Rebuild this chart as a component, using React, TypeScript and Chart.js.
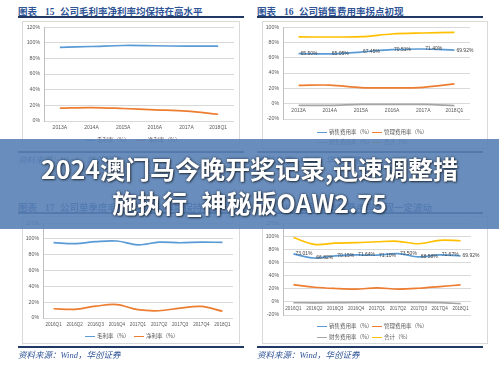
import React, { useEffect, useRef } from "react";
import { Chart, registerables } from "chart.js";
Chart.register(...registerables);

// ---------- data ----------
const yearLabels = ["2013A", "2014A", "2015A", "2016A", "2017A", "2018Q1"];
const quarterLabels = ["2016Q1", "2016Q2", "2016Q3", "2016Q4", "2017Q1", "2017Q2", "2017Q3", "2017Q4", "2018Q1"];

const grossMarginYear = [94.2, 95.2, 96.5, 96.2, 95.6, 95.7];
const netMarginYear = [16.5, 17.2, 16.0, 14.3, 12.6, 8.6];

const sellingYear = [65.5, 65.05, 67.45, 70.51, 71.4, 69.92];
const adminYear = [23.8, 24.3, 21.0, 20.6, 21.4, 25.8];
const financeYear = [-2.1, -2.2, -1.0, -0.9, -1.0, -2.6];
const totalYear = [87.2, 87.1, 87.5, 91.0, 92.3, 93.1];

const grossMarginQ = [95.3, 94.0, 96.6, 97.4, 92.4, 96.0, 95.2, 96.0, 95.6];
const netMarginQ = [11.7, 11.0, 15.0, 17.0, 10.5, 9.2, 12.6, 14.6, 8.6];

const sellingQ = [73.01, 66.82, 70.15, 71.64, 71.1, 73.5, 68.58, 71.67, 69.92];
const adminQ = [26.2, 22.3, 20.4, 19.5, 21.3, 19.5, 20.8, 23.3, 25.8];
const financeQ = [-1.3, -1.4, -1.2, -0.9, -0.8, -0.7, -0.8, -1.2, -2.6];
const totalQ = [98.0, 87.7, 89.4, 90.2, 91.6, 92.3, 88.6, 93.8, 93.1];

const BLUE = "#5b9bd5";
const ORANGE = "#ed7d31";
const GRAY = "#a5a5a5";
const YELLOW = "#ffc000";

const TITLE_COLOR = "#2f5597";
const RULE_COLOR = "#1f3864";
const CJK = "'Noto Sans CJK SC', 'Noto Sans', sans-serif";

type DS = { label: string; data: number[]; color: string; dataLabels?: boolean };

const xLabelPlugin = {
  id: "xLabelsAtZero",
  afterDatasetsDraw(chart: any) {
    const { ctx } = chart;
    const xs = chart.scales.x;
    const ys = chart.scales.y;
    const y0 = ys.getPixelForValue(0) + 7;
    const size = (chart.options as any)._xFontSize || 5;
    ctx.save();
    ctx.font = size + "px 'Liberation Sans', sans-serif";
    ctx.fillStyle = "#595959";
    ctx.textAlign = "center";
    ctx.textBaseline = "middle";
    (chart.data.labels as string[]).forEach((l, i) => {
      ctx.fillText(l, xs.getPixelForValue(i), y0);
    });
    // data labels
    chart.data.datasets.forEach((ds: any, di: number) => {
      if (!ds._dataLabels) return;
      const meta = chart.getDatasetMeta(di);
      ctx.textAlign = "left";
      ctx.fillStyle = "#404040";
      ctx.font = "5px 'Liberation Sans', sans-serif";
      meta.data.forEach((pt: any, j: number) => {
        ctx.fillText(ds.data[j].toFixed(2) + "%", pt.x + 2, pt.y);
      });
    });
    ctx.restore();
  },
};

function LineChart(props: {
  left: number; top: number; width: number; height: number;
  pad: { left: number; right: number; top: number; bottom: number };
  yWidth: number; labels: string[]; datasets: DS[]; yMin: number; yMax: number; xFont: number;
}) {
  const ref = useRef<HTMLCanvasElement>(null);
  useEffect(() => {
    const chart = new Chart(ref.current as HTMLCanvasElement, {
      type: "line",
      data: {
        labels: props.labels,
        datasets: props.datasets.map((d) => ({
          label: d.label,
          data: d.data,
          borderColor: d.color,
          backgroundColor: d.color,
          borderWidth: 1.7,
          pointRadius: 0,
          tension: 0.35,
          fill: false,
          _dataLabels: !!d.dataLabels,
        })) as any,
      },
      options: {
        _xFontSize: props.xFont,
        animation: false,
        responsive: false,
        maintainAspectRatio: false,
        devicePixelRatio: 1,
        layout: { padding: props.pad },
        plugins: { legend: { display: false }, tooltip: { enabled: false } },
        scales: {
          x: { display: false, offset: true },
          y: {
            min: props.yMin,
            max: props.yMax,
            ticks: {
              stepSize: 20,
              callback: (v: any) => v + "%",
              font: { size: 5.2, family: "'Liberation Sans', sans-serif" },
              color: "#595959",
              padding: 4,
            },
            grid: { color: "#d9d9d9", drawTicks: false },
            border: { color: "#bfbfbf" },
            afterFit: (s: any) => {
              s.width = props.yWidth;
            },
          },
        },
      } as any,
      plugins: [xLabelPlugin],
    });
    return () => chart.destroy();
  }, []);
  return (
    <canvas
      ref={ref}
      width={props.width}
      height={props.height}
      style={{ position: "absolute", left: props.left, top: props.top, width: props.width, height: props.height }}
    />
  );
}

function Title(p: { x: number; y: number; num: string; text: string }) {
  return (
    <>
      <div
        style={{
          position: "absolute", left: p.x, top: p.y, height: 12, lineHeight: "12px",
          fontSize: 9.5, fontWeight: 700, color: TITLE_COLOR, whiteSpace: "nowrap", fontFamily: CJK,
        }}
      >
        <span>图表</span>
        <span style={{ fontFamily: "'Liberation Serif', serif", marginLeft: 8 }}>{p.num}</span>
        <span style={{ position: "absolute", left: 42 }}>{p.text}</span>
      </div>
      <div style={{ position: "absolute", left: p.x, top: p.y + 11, width: 226, height: 2, background: RULE_COLOR }} />
    </>
  );
}

function Source(p: { x: number; y: number }) {
  return (
    <>
      <div style={{ position: "absolute", left: p.x, top: p.y, width: 226, height: 2, background: RULE_COLOR }} />
      <div
        style={{
          position: "absolute", left: p.x, top: p.y + 4, fontSize: 8.5, lineHeight: "11px",
          fontStyle: "italic", color: TITLE_COLOR, whiteSpace: "nowrap",
          fontFamily: "'Liberation Serif', 'Noto Sans CJK SC', serif",
        }}
      >
        资料来源：Wind，华创证券
      </div>
    </>
  );
}

function Box(p: { x: number; y: number; w: number; h: number }) {
  return (
    <div
      style={{
        position: "absolute", left: p.x, top: p.y, width: p.w, height: p.h,
        border: "1px solid #d9d9d9", boxSizing: "border-box",
      }}
    />
  );
}

function LegendItem(p: { x: number; y: number; color: string; label: string }) {
  return (
    <div style={{ position: "absolute", left: p.x, top: p.y - 4, height: 8, whiteSpace: "nowrap" }}>
      <div style={{ position: "absolute", left: 0, top: 3.5, width: 10, height: 1.5, background: p.color }} />
      <div
        style={{
          position: "absolute", left: 12, top: 0, lineHeight: "8px", fontSize: 5.5,
          color: "#595959", fontFamily: CJK,
        }}
      >
        {p.label}
      </div>
    </div>
  );
}

export default function App() {
  return (
    <div
      style={{
        position: "fixed", left: 0, top: 0, width: 499, height: 371, background: "#fff",
        overflow: "hidden", fontFamily: CJK,
      }}
    >
      {/* Figure 15 */}
      <Title x={18} y={5} num="15" text="公司毛利率净利率均保持在高水平" />
      <Box x={22} y={21} w={218} h={127} />
      <LineChart
        left={22} top={20} width={218} height={124}
        pad={{ left: 2, right: 6, top: 5, bottom: 23 }} yWidth={20} xFont={5}
        labels={yearLabels} yMin={0} yMax={120}
        datasets={[
          { label: "毛利率（%）", data: grossMarginYear, color: BLUE },
          { label: "净利率（%）", data: netMarginYear, color: ORANGE },
        ]}
      />
      <LegendItem x={85} y={140} color={BLUE} label="毛利率（%）" />
      <LegendItem x={136} y={140} color={ORANGE} label="净利率（%）" />
      <Source x={18} y={151} />

      {/* Figure 16 */}
      <Title x={257} y={5} num="16" text="公司销售费用率拐点初现" />
      <Box x={262} y={21} w={226} h={128} />
      <LineChart
        left={262} top={20} width={226} height={124}
        pad={{ left: 1, right: 18, top: 5, bottom: 25 }} yWidth={20} xFont={5}
        labels={yearLabels} yMin={-20} yMax={100}
        datasets={[
          { label: "销售费用率（%）", data: sellingYear, color: BLUE, dataLabels: true },
          { label: "管理费用率（%）", data: adminYear, color: ORANGE },
          { label: "财务费用率（%）", data: financeYear, color: GRAY },
          { label: "合计（%）", data: totalYear, color: YELLOW },
        ]}
      />
      <LegendItem x={317} y={132} color={BLUE} label="销售费用率（%）" />
      <LegendItem x={372} y={132} color={ORANGE} label="管理费用率（%）" />
      <LegendItem x={317} y={142} color={GRAY} label="财务费用率（%）" />
      <LegendItem x={372} y={142} color={YELLOW} label="合计（%）" />
      <Source x={257} y={151} />

      {/* Figure 17 */}
      <Title x={18} y={201} num="17" text="公司单季度毛利率和净利率均保持稳定" />
      <Box x={22} y={216} w={218} h={128} />
      <LineChart
        left={22} top={216} width={218} height={124}
        pad={{ left: 1, right: 7, top: 4, bottom: 22 }} yWidth={20} xFont={4.6}
        labels={quarterLabels} yMin={0} yMax={120}
        datasets={[
          { label: "毛利率（%）", data: grossMarginQ, color: BLUE },
          { label: "净利率（%）", data: netMarginQ, color: ORANGE },
        ]}
      />
      <LegendItem x={85} y={336} color={BLUE} label="毛利率（%）" />
      <LegendItem x={134} y={336} color={ORANGE} label="净利率（%）" />
      <Source x={18} y={346} />

      {/* Figure 18 */}
      <Title x={257} y={201} num="18" text="公司单季度费用率出现一定波动" />
      <Box x={262} y={216} w={226} h={128} />
      <LineChart
        left={262} top={216} width={226} height={124}
        pad={{ left: 1, right: 17, top: 5, bottom: 25 }} yWidth={20} xFont={4.6}
        labels={quarterLabels} yMin={-20} yMax={120}
        datasets={[
          { label: "销售费用率（%）", data: sellingQ, color: BLUE, dataLabels: true },
          { label: "管理费用率（%）", data: adminQ, color: ORANGE },
          { label: "财务费用率（%）", data: financeQ, color: GRAY },
          { label: "合计（%）", data: totalQ, color: YELLOW },
        ]}
      />
      <LegendItem x={317} y={326} color={BLUE} label="销售费用率（%）" />
      <LegendItem x={372} y={326} color={ORANGE} label="管理费用率（%）" />
      <LegendItem x={317} y={337} color={GRAY} label="财务费用率（%）" />
      <LegendItem x={372} y={337} color={YELLOW} label="合计（%）" />
      <Source x={257} y={346} />

      {/* Banner overlay */}
      <div
        style={{
          position: "absolute", left: 0, top: 139, width: 499, height: 90,
          background: "rgba(89,129,181,0.9)", textAlign: "center", color: "#fff",
          fontFamily: CJK, fontWeight: 700, fontSize: 25, lineHeight: "34px",
          paddingTop: 12, boxSizing: "border-box",
          textShadow: "0 0 3px rgba(0,0,0,0.6), 1px 1px 2px rgba(0,0,0,0.5)",
        }}
      >
        <div>2024澳门马今晚开奖记录,迅速调整措</div>
        <div>施执行_神秘版OAW2.75</div>
      </div>
    </div>
  );
}
